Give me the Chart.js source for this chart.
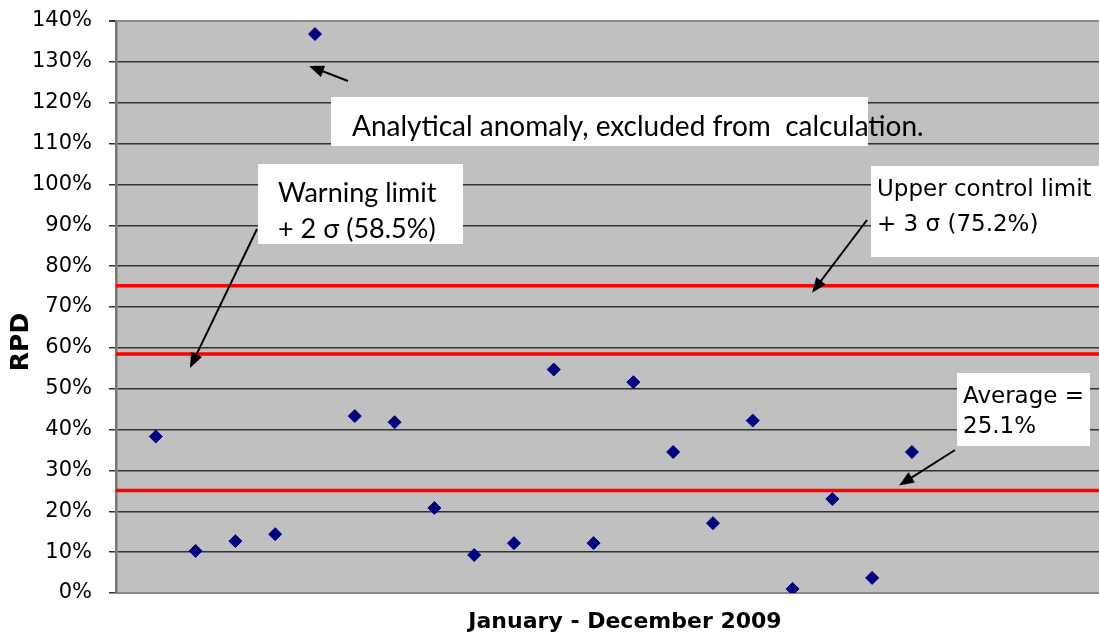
<!DOCTYPE html>
<html>
<head>
<meta charset="utf-8">
<script src="https://cdn.jsdelivr.net/npm/chart.js@4.4.1/dist/chart.umd.min.js"></script>
<style>
  html, body { margin: 0; padding: 0; background: #fff; }
  #wrap { width: 1099px; height: 635px; }
</style>
</head>
<body>
<div id="wrap"><canvas id="rpdChart" width="1099" height="635"></canvas></div>
<script>
// sample number along the year and its RPD (%)
const sampleNo = [1, 2, 3, 4, 5, 6, 7, 8, 9, 10, 11, 12, 13, 14, 15, 16, 17, 18, 19, 20];
const rpd = [38.3, 10.3, 12.7, 14.4, 136.8, 43.3, 41.8, 20.8, 9.3, 12.2,
             54.7, 12.2, 51.6, 34.5, 17.1, 42.2, 1.0, 23.0, 3.7, 34.5];

// control chart limits (%)
const upperControl = 75.2;
const warningLimit = 58.5;
const average = 25.1;

const yTicks = [0, 10, 20, 30, 40, 50, 60, 70, 80, 90, 100, 110, 120, 130, 140];
const xMax = 24.7;

const points = sampleNo.map((s, i) => ({ x: s, y: rpd[i] }));
const flat = v => [{ x: 0, y: v }, { x: xMax, y: v }];

function arrow(ctx, x1, y1, x2, y2) {
  const a = Math.atan2(y2 - y1, x2 - x1);
  const len = 15, half = 6;
  ctx.save();
  ctx.strokeStyle = '#000';
  ctx.fillStyle = '#000';
  ctx.lineWidth = 2;
  ctx.beginPath();
  ctx.moveTo(x1, y1);
  ctx.lineTo(x2 - Math.cos(a) * len * 0.8, y2 - Math.sin(a) * len * 0.8);
  ctx.stroke();
  ctx.beginPath();
  ctx.moveTo(x2, y2);
  ctx.lineTo(x2 - Math.cos(a) * len + Math.sin(a) * half, y2 - Math.sin(a) * len - Math.cos(a) * half);
  ctx.lineTo(x2 - Math.cos(a) * len - Math.sin(a) * half, y2 - Math.sin(a) * len + Math.cos(a) * half);
  ctx.closePath();
  ctx.fill();
  ctx.restore();
}

function noteBox(ctx, x, y, w, h, lines, font, tx, baselines) {
  ctx.save();
  ctx.fillStyle = '#fff';
  ctx.fillRect(x, y, w, h);
  ctx.fillStyle = '#000';
  ctx.font = font;
  ctx.textAlign = 'left';
  ctx.textBaseline = 'alphabetic';
  lines.forEach((t, i) => ctx.fillText(t, tx, baselines[i]));
  ctx.restore();
}

const plotBg = {
  id: 'plotBg',
  beforeDraw(chart) {
    const { ctx, chartArea: a } = chart;
    ctx.save();
    ctx.fillStyle = '#c0c0c0';
    ctx.fillRect(a.left, a.top, a.right - a.left, a.bottom - a.top);
    ctx.restore();
  }
};

const notes = {
  id: 'notes',
  afterDraw(chart) {
    const { ctx } = chart;
    const y = chart.scales.y;

    // axis titles
    ctx.save();
    ctx.fillStyle = '#000';
    ctx.font = 'bold 22px "DejaVu Sans"';
    ctx.textAlign = 'center';
    ctx.fillText('January - December 2009', 625, 628);
    ctx.translate(28, 342);
    ctx.rotate(-Math.PI / 2);
    ctx.font = 'bold 25px "DejaVu Sans"';
    ctx.fillText('RPD', 0, 0);
    ctx.restore();

    const arial = '23px "DejaVu Sans"';

    noteBox(ctx, 331, 97, 537, 49, ['Analytical anomaly, excluded from  calculation.'], '28px Lato', 352, [136]);
    arrow(ctx, 348, 81, 309, 66);

    noteBox(ctx, 258, 164, 205, 80, ['Warning limit', '+ 2 \u03c3 (58.5%)'], '27px Lato', 278, [202, 238]);
    arrow(ctx, 257, 229, 190, y.getPixelForValue(warningLimit) + 14);

    noteBox(ctx, 871, 166, 228, 91, ['Upper control limit', '+ 3 \u03c3 (75.2%)'], arial, 877, [196, 231]);
    arrow(ctx, 867, 220, 812, y.getPixelForValue(upperControl) + 7);

    noteBox(ctx, 957, 373, 133, 73, ['Average =', '25.1%'], arial, 963, [403, 433]);
    arrow(ctx, 955, 450, 899, y.getPixelForValue(average) - 5);
  }
};

const limitLine = (label, v) => ({
  type: 'line',
  label: label,
  data: flat(v),
  borderColor: '#ff0000',
  borderWidth: 3.5,
  pointRadius: 0,
  fill: false,
  order: 0
});

new Chart(document.getElementById('rpdChart'), {
  type: 'scatter',
  data: {
    datasets: [
      {
        label: 'RPD',
        data: points,
        pointStyle: 'rectRot',
        pointRadius: 6.5,
        pointBorderWidth: 1,
        backgroundColor: '#000080',
        borderColor: '#000080',
        order: 1
      },
      limitLine('Upper control limit', upperControl),
      limitLine('Warning limit', warningLimit),
      limitLine('Average', average)
    ]
  },
  options: {
    responsive: false,
    animation: false,
    layout: { autoPadding: false, padding: { top: 21, left: 0, right: 0, bottom: 0 } },
    plugins: {
      legend: { display: false },
      tooltip: { enabled: false }
    },
    scales: {
      x: {
        type: 'linear',
        min: 0,
        max: xMax,
        ticks: { display: false },
        grid: { display: false, drawTicks: false },
        border: { display: true, color: '#8a8a8a', width: 2 },
        afterFit: s => { s.height = 42; }
      },
      y: {
        min: 0,
        max: 140,
        afterBuildTicks: s => { s.ticks = yTicks.map(v => ({ value: v })); },
        ticks: {
          callback: v => v + '%',
          color: '#000',
          font: { family: '"DejaVu Sans"', size: 21, lineHeight: 0.3 },
          padding: 17
        },
        grid: {
          color: c => (c.tick && (c.tick.value === 140 || c.tick.value === 0)) ? '#8a8a8a' : '#333',
          lineWidth: c => (c.tick && c.tick.value === 140) ? 2 : 1.5,
          tickColor: '#333',
          tickLength: 7
        },
        border: { display: true, color: '#777', width: 2.5 },
        afterFit: s => { s.width = 116; }
      }
    }
  },
  plugins: [plotBg, notes]
});
</script>
</body>
</html>
